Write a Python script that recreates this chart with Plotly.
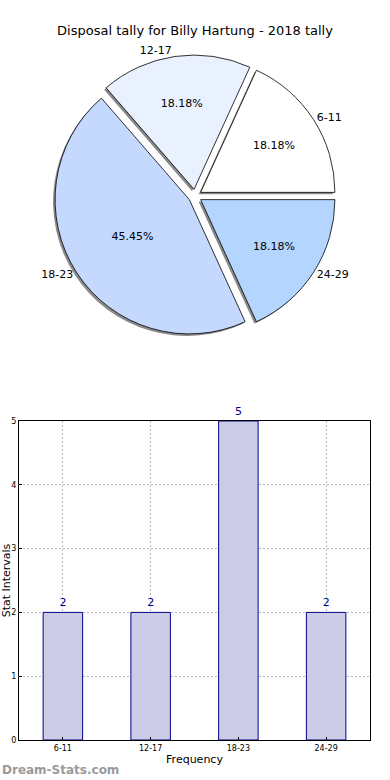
import plotly.graph_objects as go

# Data
categories = ["6-11", "12-17", "18-23", "24-29"]
counts = [2, 2, 5, 2]
pie_colors = ["#ffffff", "#e9f0fe", "#c5d8fe", "#b3d5fe"]
title_text = "Disposal tally for Billy Hartung - 2018 tally"
y_ticks = [0, 1, 2, 3, 4, 5]

W, H = 390, 780

# pie geometry (pixels)
cx, cy, half = 195, 196, 141
pull = [0.05] * len(categories)
# plotly's counterclockwise pies end the first slice at `rotation`;
# shift so the first slice starts at 3 o'clock like matplotlib
start_rot = 90 - 360 * counts[0] / sum(counts)


def pie_domain(dx=0, dy=0):
    return dict(
        x=[(cx - half + dx) / W, (cx + half + dx) / W],
        y=[1 - (cy + half + dy) / H, 1 - (cy - half + dy) / H],
    )


fig = go.Figure()

common = dict(labels=categories, values=counts, sort=False,
              direction="counterclockwise", rotation=start_rot, pull=pull)

# shadow
fig.add_trace(go.Pie(
    **common, domain=pie_domain(-2, 2),
    marker=dict(colors=["#8a8a8a"] * 4, line=dict(width=0)),
    textinfo="none", hoverinfo="skip", showlegend=False,
))
# main pie with percentages
fig.add_trace(go.Pie(
    **common, domain=pie_domain(),
    marker=dict(colors=pie_colors, line=dict(color="#000000", width=0.8)),
    texttemplate="%{percent:.2%}", textposition="inside",
    insidetextorientation="horizontal",
    textfont=dict(family="DejaVu Sans", size=11, color="#000000"),
    showlegend=False,
))
# labels outside
fig.add_trace(go.Pie(
    **common, domain=pie_domain(),
    marker=dict(colors=["rgba(0,0,0,0)"] * 4, line=dict(width=0)),
    textinfo="label", textposition="outside",
    textfont=dict(family="DejaVu Sans", size=11, color="#000000"),
    showlegend=False, hoverinfo="skip",
))

# bar chart
fig.add_trace(go.Bar(
    x=categories, y=counts, width=0.45,
    marker=dict(color="#ccccE6", line=dict(color="#00008b", width=1)),
    text=counts, textposition="outside", cliponaxis=False,
    textfont=dict(family="DejaVu Sans", size=11, color="#00008b"),
    showlegend=False,
))

grid_dash = "2px,2px"

fig.update_layout(
    width=W, height=H,
    margin=dict(l=0, r=0, t=0, b=0, autoexpand=False),
    paper_bgcolor="#ffffff", plot_bgcolor="#ffffff",
    title=dict(text=title_text, x=0.5, xanchor="center", y=1 - 30 / H, yanchor="middle",
               font=dict(family="DejaVu Sans", size=13, color="#000000")),
    xaxis=dict(
        domain=[19 / W, 370 / W], range=[-0.5, 3.5], automargin=False,
        showline=True, linecolor="#000000", linewidth=1, mirror=True,
        showgrid=True, gridcolor="#b8b8b8", griddash=grid_dash, gridwidth=1,
        ticks="inside", ticklen=3, tickcolor="#000000", layer="above traces",
        tickfont=dict(family="DejaVu Sans", size=8, color="#000000"),
        title=dict(text="Frequency", standoff=3,
                   font=dict(family="DejaVu Sans", size=11, color="#000000")),
        zeroline=False, fixedrange=True,
    ),
    yaxis=dict(
        domain=[1 - 740 / H, 1 - 421 / H], range=[0, 5], automargin=False,
        tickvals=y_ticks,
        showline=True, linecolor="#000000", linewidth=1, mirror=True,
        showgrid=True, gridcolor="#b8b8b8", griddash=grid_dash, gridwidth=1,
        ticks="inside", ticklen=3, tickcolor="#000000", layer="above traces",
        tickfont=dict(family="DejaVu Sans", size=8, color="#000000"),
        title=dict(text="Stat Intervals", standoff=4,
                   font=dict(family="DejaVu Sans", size=11, color="#000000")),
        zeroline=False, fixedrange=True,
    ),
    annotations=[dict(
        text="<b>Dream-Stats.com</b>", xref="paper", yref="paper",
        x=0, y=1 - 770 / H, xanchor="left", yanchor="middle", showarrow=False,
        font=dict(family="DejaVu Sans", size=12, color="#9a9a9a"),
    )],
)

fig.write_html("out.html",
               config={"displayModeBar": False},
               post_script="document.body.style.margin='0';"
                           "document.body.style.overflow='hidden';")
